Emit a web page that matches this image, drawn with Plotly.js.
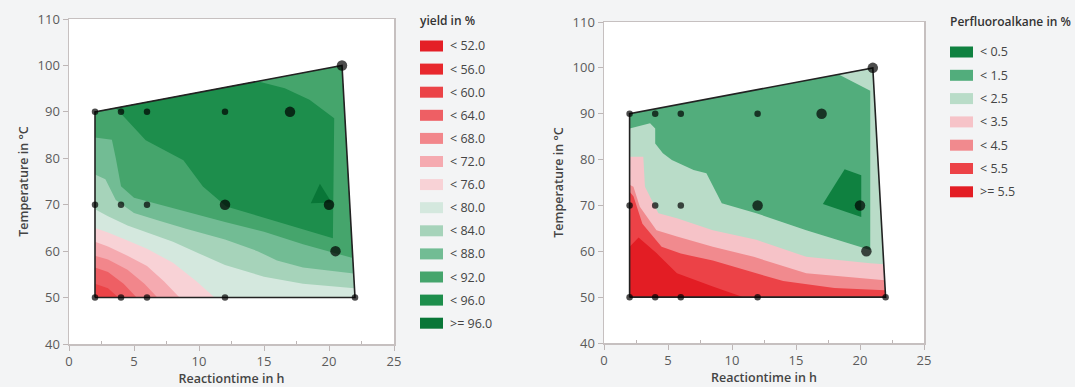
<!DOCTYPE html>
<html><head><meta charset="utf-8">
<script src="https://cdn.plot.ly/plotly-3.0.1.min.js"></script>
<style>html,body{margin:0;padding:0;background:#f3f4f5}#chart{width:1075px;height:387px}</style>
</head><body><div id="chart"></div>
<script>
// ---------- design points (both panels) ----------
const designTime = [2,4,6,12,17,21, 2,4,6,12,20,20.5, 2,4,6,12,22];
const designTemp = [90,90,90,90,90,100, 70,70,70,70,70,60, 50,50,50,50,50];
const designWeight = [1,1,1,1,2,2, 1,1,1,2,2,2, 1,1,1,1,1];
// convex hull of the design
const hullTime = [2,2,21,22,2];
const hullTemp = [50,90,100,50,50];

// ---------- yield legend ----------
const yieldLabels = ['< 52.0','< 56.0','< 60.0','< 64.0','< 68.0','< 72.0','< 76.0','< 80.0','< 84.0','< 88.0','< 92.0','< 96.0','>= 96.0'];
const yieldColors = ['#e41f26','#e8282d','#eb4347','#ee5f64','#f2868b','#f5aab0','#f8d2d6','#d4e8de','#a6d3ba','#72bc94','#45a56c','#1d8e4c','#087637'];

// yield contour lines (boundary "value >= level")
const yIso60t = [2,3,3.8];              const yIso60T = [53,52,50];
const yIso64t = [2,3,4.2,5.2];          const yIso64T = [56.5,55.5,53,50];
const yIso68t = [2,3,4.5,5.8,6.8];      const yIso68T = [59,58.2,56,53,50];
const yIso72t = [2,3,4.5,6,7.3,8.5];    const yIso72T = [62,61,59,56.8,53.5,50];
const yIso76t = [2,3,4.5,6,8,9.8,11.2]; const yIso76T = [65,64,62.3,60.5,57.5,53.5,50];
const yIso80t = [2,3,4.5,6,8,10,12,15,18,21.96]; const yIso80T = [69,67.5,65.5,64,62,59.5,57,54.5,53,52];
const yIso84t = [2,2.8,3.6,5,7,9,12,14.5,16,18,21.9]; const yIso84T = [76.5,75.5,71,68.2,66.5,64.8,62.5,60,58,56.5,55.2];
const yIso88t = [2,3.3,3.6,4,5,7,9,12,15,18,21.83]; const yIso88T = [84.5,84,80,74,71.5,70,68.5,66.3,64.2,61.5,58.5];
const yIso92t = [3.6,5.9,8.8,10.3,12.1,16.5,20.3,20.4,18.5,16.6,14.5]; const yIso92T = [90.84,83.9,79.6,73.9,69.6,66,62.8,88.6,92.6,95.1,96.58];
const yIso96t = [19.3,18.6,20.2];       const yIso96T = [74.5,70.3,70.5];

// ---------- perfluoroalkane legend ----------
const pfLabels = ['< 0.5','< 1.5','< 2.5','< 3.5','< 4.5','< 5.5','>= 5.5'];
const pfColors = ['#0f8140','#52ad7c','#b9dcc8','#f6c3c8','#f18a8e','#ec4247','#e31d24'];

const pIso15t = [18.3,19.2,20,20.8,20.8,15.8,11.9,9.2,8,7,5.3,4.6,4,4,3.6,2];
const pIso15T = [98.58,97.3,96,95,60.3,64.6,68.3,70.5,77,77.7,79.9,81.4,83.5,86.8,87.9,86.8];
const pIso25t = [21.86,20.8,15.8,11.9,8.5,5.7,4.25,3.2,3.07,2];
const pIso25T = [57.2,57.4,58.8,62.5,64.6,67.2,68.3,74.1,80.6,80.6];
const pIso35t = [21.93,15.8,11.7,8.5,5.7,4.1,2.8,2.3,2];
const pIso35T = [53.7,55.2,58.8,61,63.2,64.6,69.7,74.1,74.5];
const pIso45t = [21.97,18,14,11,8.5,6,4.5,3,2.3,2];
const pIso45T = [51.5,52,53.5,56,58,59.5,61,66,72,73];
const pIso55t = [10.9,8.5,5.7,4.1,2.7,2];
const pIso55T = [50,52.3,55.2,59.6,63,61];
const pIso05t = [18.8,20.1,20.1,17.1];
const pIso05T = [77.9,76.6,67.5,70.3];

// ---------- helpers ----------
function region(it, iT, ct, cT, color, xa, ya){
  return {type:'scatter', mode:'lines', x: it.concat(ct), y: iT.concat(cT), fill:'toself',
    fillcolor: color, line:{width:0, color:color}, hoverinfo:'skip', showlegend:false, xaxis:xa, yaxis:ya};
}
const traces = [];
// left panel: yield
traces.push(region(hullTime, hullTemp, [], [], yieldColors[2], 'x','y'));
traces.push(region(yIso60t, yIso60T, [22,21,2], [50,100,90], yieldColors[3], 'x','y'));
traces.push(region(yIso64t, yIso64T, [22,21,2], [50,100,90], yieldColors[4], 'x','y'));
traces.push(region(yIso68t, yIso68T, [22,21,2], [50,100,90], yieldColors[5], 'x','y'));
traces.push(region(yIso72t, yIso72T, [22,21,2], [50,100,90], yieldColors[6], 'x','y'));
traces.push(region(yIso76t, yIso76T, [22,21,2], [50,100,90], yieldColors[7], 'x','y'));
traces.push(region(yIso80t, yIso80T, [21,2], [100,90], yieldColors[8], 'x','y'));
traces.push(region(yIso84t, yIso84T, [21,2], [100,90], yieldColors[9], 'x','y'));
traces.push(region(yIso88t, yIso88T, [21,2], [100,90], yieldColors[10], 'x','y'));
traces.push(region(yIso92t, yIso92T, [], [], yieldColors[11], 'x','y'));
traces.push(region(yIso96t, yIso96T, [], [], yieldColors[12], 'x','y'));
// right panel: perfluoroalkane
traces.push(region(hullTime, hullTemp, [], [], pfColors[1], 'x2','y2'));
traces.push(region(pIso15t, pIso15T, [2,22,21], [50,50,100], pfColors[2], 'x2','y2'));
traces.push(region(pIso25t, pIso25T, [2,22], [50,50], pfColors[3], 'x2','y2'));
traces.push(region(pIso35t, pIso35T, [2,22], [50,50], pfColors[4], 'x2','y2'));
traces.push(region(pIso45t, pIso45T, [2,22], [50,50], pfColors[5], 'x2','y2'));
traces.push(region(pIso55t, pIso55T, [2], [50], pfColors[6], 'x2','y2'));
traces.push(region(pIso05t, pIso05T, [], [], pfColors[0], 'x2','y2'));

const markerSizes = designWeight.map(w => w === 2 ? 10.5 : 6.5);
[['x','y'],['x2','y2']].forEach(([xa,ya]) => {
  traces.push({type:'scatter', mode:'lines', x:hullTime, y:hullTemp, line:{color:'#222', width:1.6},
    hoverinfo:'skip', showlegend:false, xaxis:xa, yaxis:ya});
  traces.push({type:'scatter', mode:'markers', x:designTime, y:designTemp,
    marker:{color:'#000', size:markerSizes, line:{width:0}}, showlegend:false, xaxis:xa, yaxis:ya});
});

// ---------- layout ----------
const W = 1075, H = 387;
const fx = p => p / W, fy = p => 1 - p / H;
const font = 'Open Sans, Noto Sans, sans-serif';
function xax(d){
  return {domain:[fx(d[0]),fx(d[1])], range:[0,25], tickvals:[0,5,10,15,20,25], ticks:'outside', ticklen:5,
    tickcolor:'#bdb6b6', showline:true, linecolor:'#c6c0c0', linewidth:1.5, mirror:true, showgrid:false, zeroline:false,
    tickfont:{family:font, size:13, color:'#5b5b5b'},
    minor:{tickvals:[2.5,7.5,12.5,17.5,22.5], ticks:'inside', ticklen:3, tickcolor:'#bdb6b6'},
    title:{text:'Reactiontime in h', font:{family:font, size:12.5, color:'#444', weight:600}, standoff:4}, fixedrange:true};
}
function yax(d, anchor){
  return {domain:[fy(d[1]),fy(d[0])], range:[40,110], tickvals:[40,50,60,70,80,90,100,110], ticks:'outside', ticklen:5,
    tickcolor:'#bdb6b6', showline:true, linecolor:'#c6c0c0', linewidth:1.5, mirror:true, showgrid:false, zeroline:false,
    tickfont:{family:font, size:13, color:'#5b5b5b'}, anchor:anchor,
    title:{text:'Temperature in °C', font:{family:font, size:12.5, color:'#444', weight:600}, standoff:6}, fixedrange:true};
}
const shapes = [], annotations = [];
function legend(title, labels, colors, x0, titleY, firstY, step){
  annotations.push({xref:'paper', yref:'paper', x:fx(x0-2), y:fy(titleY), xanchor:'left', yanchor:'middle', showarrow:false,
    text:title, font:{family:font, size:12, color:'#333', weight:600}});
  labels.forEach((lab,i) => {
    const cy = firstY + i*step;
    shapes.push({type:'rect', xref:'paper', yref:'paper', x0:fx(x0), x1:fx(x0+23), y0:fy(cy+5.5), y1:fy(cy-5.5),
      fillcolor:colors[i], line:{width:0}});
    annotations.push({xref:'paper', yref:'paper', x:fx(x0+28), y:fy(cy), xanchor:'left', yanchor:'middle', showarrow:false,
      text:lab, font:{family:font, size:12.5, color:'#444'}});
  });
}
legend('yield in %', yieldLabels, yieldColors, 420, 21, 46, 23.1);
legend('Perfluoroalkane in %', pfLabels, pfColors, 950, 22, 52, 23.3);

const layout = {width:W, height:H, margin:{l:0,r:0,t:0,b:0}, paper_bgcolor:'#f3f4f5', plot_bgcolor:'#ffffff',
  showlegend:false, xaxis:xax([69,394]), yaxis:yax([19,344],'x'), xaxis2:Object.assign(xax([604,924]),{anchor:'y2'}),
  yaxis2:yax([22,343],'x2'), shapes:shapes, annotations:annotations};
layout.xaxis.anchor = 'y';
Plotly.newPlot('chart', traces, layout, {staticPlot:true});
</script></body></html>
